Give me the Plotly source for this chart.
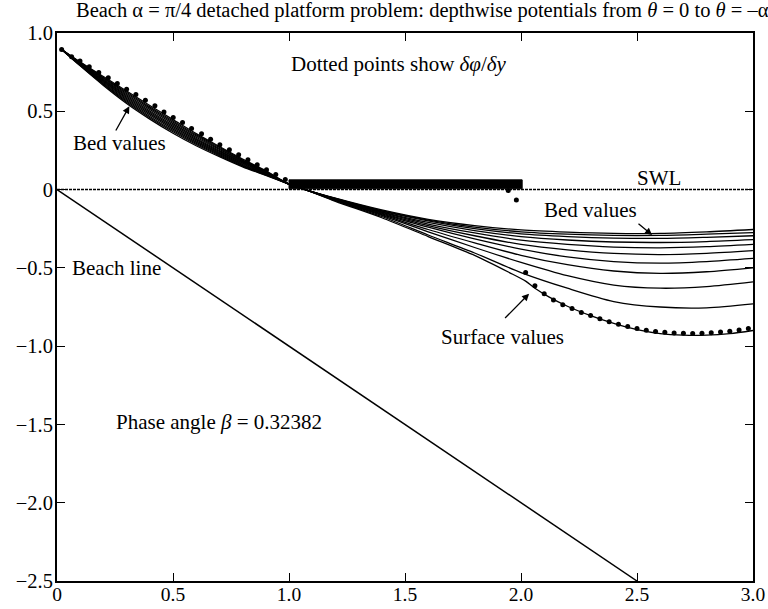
import plotly.graph_objects as go

# ---- data -------------------------------------------------------------
# Depthwise potential curves, one per ray angle theta (bed = -alpha ... surface = 0).
# Left of the platform (x < 1) the curves are bunched; to the right they fan out.
X_LEFT = [0.02, 0.1, 0.2, 0.3, 0.4, 0.5, 0.6, 0.7, 0.8, 0.9]
LEFT_CURVES = [
    [0.895, 0.790, 0.665, 0.550, 0.450, 0.360, 0.280, 0.210, 0.145, 0.090],  # bed
    [0.895, 0.793, 0.671, 0.558, 0.459, 0.369, 0.288, 0.217, 0.150, 0.093],
    [0.895, 0.795, 0.676, 0.566, 0.467, 0.377, 0.295, 0.223, 0.155, 0.096],
    [0.895, 0.798, 0.682, 0.574, 0.476, 0.386, 0.303, 0.230, 0.160, 0.099],
    [0.895, 0.800, 0.688, 0.582, 0.485, 0.395, 0.311, 0.236, 0.165, 0.102],
    [0.895, 0.803, 0.694, 0.590, 0.494, 0.404, 0.319, 0.243, 0.170, 0.105],
    [0.895, 0.805, 0.699, 0.598, 0.502, 0.412, 0.326, 0.249, 0.175, 0.108],
    [0.895, 0.808, 0.705, 0.606, 0.511, 0.421, 0.334, 0.256, 0.180, 0.111],
    [0.895, 0.810, 0.711, 0.614, 0.520, 0.430, 0.342, 0.262, 0.185, 0.114],
    [0.895, 0.813, 0.716, 0.622, 0.528, 0.438, 0.349, 0.269, 0.190, 0.117],
    [0.895, 0.815, 0.722, 0.630, 0.537, 0.447, 0.357, 0.275, 0.195, 0.120],  # surface
]

X_RIGHT = [1.0, 1.07, 1.2, 1.4, 1.6, 1.8, 2.0, 2.2, 2.4, 2.6, 2.8, 3.0]
RIGHT_CURVES = [
    [0.035, 0.0, -0.055, -0.130, -0.190, -0.230, -0.258, -0.272, -0.280, -0.280, -0.270, -0.255],  # bed
    [0.035, 0.0, -0.057, -0.135, -0.195, -0.240, -0.270, -0.285, -0.293, -0.293, -0.285, -0.275],
    [0.035, 0.0, -0.058, -0.138, -0.200, -0.250, -0.283, -0.300, -0.310, -0.312, -0.305, -0.295],
    [0.035, 0.0, -0.060, -0.142, -0.210, -0.262, -0.300, -0.322, -0.335, -0.338, -0.332, -0.320],
    [0.035, 0.0, -0.061, -0.146, -0.220, -0.277, -0.323, -0.350, -0.367, -0.372, -0.365, -0.350],
    [0.035, 0.0, -0.063, -0.150, -0.230, -0.295, -0.350, -0.385, -0.408, -0.415, -0.407, -0.390],
    [0.035, 0.0, -0.065, -0.155, -0.240, -0.315, -0.380, -0.430, -0.460, -0.470, -0.460, -0.440],
    [0.035, 0.0, -0.067, -0.160, -0.255, -0.340, -0.420, -0.480, -0.520, -0.535, -0.525, -0.500],
    [0.035, 0.0, -0.069, -0.165, -0.270, -0.370, -0.465, -0.550, -0.610, -0.630, -0.620, -0.590],
    [0.035, 0.0, -0.071, -0.172, -0.290, -0.405, -0.530, -0.630, -0.715, -0.750, -0.755, -0.730],
]
# surface curve (theta = 0) on the right, with its kink just past the platform end
X_SURFACE = [1.0, 1.07, 1.2, 1.4, 1.6, 1.8, 1.95, 2.02, 2.06, 2.12, 2.2, 2.3, 2.4,
             2.5, 2.6, 2.7, 2.8, 2.9, 3.0]
Y_SURFACE = [0.035, 0.0, -0.075, -0.180, -0.300, -0.420, -0.530, -0.585, -0.630, -0.685,
             -0.745, -0.805, -0.855, -0.895, -0.920, -0.930, -0.930, -0.920, -0.900]

# d(phi)/dy sample points
DOT_X_LEFT = [0.020, 0.063, 0.099, 0.139, 0.180, 0.221, 0.260, 0.300, 0.340, 0.381, 0.422,
              0.461, 0.501, 0.541, 0.580, 0.623, 0.662, 0.702, 0.743, 0.783, 0.823, 0.863,
              0.903, 0.943, 0.984]
DOT_Y_LEFT = [0.895, 0.848, 0.821, 0.784, 0.748, 0.714, 0.678, 0.641, 0.607, 0.571, 0.535,
              0.496, 0.460, 0.428, 0.390, 0.357, 0.321, 0.287, 0.254, 0.222, 0.190, 0.158,
              0.126, 0.096, 0.064]
DOT_X_RIGHT = [1.945, 1.98, 2.02, 2.06, 2.10, 2.14, 2.18, 2.22, 2.26, 2.30, 2.34, 2.38, 2.42,
               2.46, 2.50, 2.54, 2.58, 2.62, 2.66, 2.70, 2.74, 2.78, 2.82, 2.86, 2.90,
               2.94, 2.98]
DOT_Y_RIGHT = [-0.006, -0.066, -0.530, -0.615, -0.665, -0.705, -0.735, -0.760, -0.785,
               -0.805, -0.825, -0.845, -0.860, -0.875, -0.888, -0.898, -0.906, -0.912,
               -0.916, -0.918, -0.920, -0.918, -0.915, -0.910, -0.905, -0.897, -0.888]

# platform (detached, just above still water level)
PLATFORM_X = [1.0, 2.005]
PLATFORM_Y = [0.005, 0.062]

# beach and still water level
BEACH_X = [0.0, 2.5]
BEACH_Y = [0.0, -2.5]
SWL_X = [0.0, 3.0]
SWL_Y = [0.0, 0.0]

X_TICKS = [0, 0.5, 1.0, 1.5, 2.0, 2.5, 3.0]
X_TICK_TEXT = ["0", "0.5", "1.0", "1.5", "2.0", "2.5", "3.0"]
Y_TICKS = [-2.5, -2.0, -1.5, -1.0, -0.5, 0, 0.5, 1.0]
Y_TICK_TEXT = ["\u22122.5", "\u22122.0", "\u22121.5", "\u22121.0", "\u22120.5", "0", "0.5", "1.0"]

# ---- figure -------------------------------------------------------------
FONT = "Liberation Serif, Times New Roman, serif"
fig = go.Figure()

# still water level (densely dotted)
fig.add_trace(go.Scatter(x=SWL_X, y=SWL_Y, mode="lines",
                         line=dict(color="black", width=1.5, dash="3px,1px"),
                         hoverinfo="skip"))

# beach line
fig.add_trace(go.Scatter(x=BEACH_X, y=BEACH_Y, mode="lines",
                         line=dict(color="black", width=1.5), hoverinfo="skip"))

# potential curves
for i, left in enumerate(LEFT_CURVES):
    if i < len(RIGHT_CURVES):
        xs = X_LEFT + X_RIGHT
        ys = left + RIGHT_CURVES[i]
    else:
        xs = X_LEFT + X_SURFACE
        ys = left + Y_SURFACE
    fig.add_trace(go.Scatter(x=xs, y=ys, mode="lines",
                             line=dict(color="black", width=1.3, shape="spline",
                                       smoothing=0.8),
                             hoverinfo="skip"))

# platform
fig.add_trace(go.Scatter(
    x=[PLATFORM_X[0], PLATFORM_X[1], PLATFORM_X[1], PLATFORM_X[0], PLATFORM_X[0]],
    y=[PLATFORM_Y[0], PLATFORM_Y[0], PLATFORM_Y[1], PLATFORM_Y[1], PLATFORM_Y[0]],
    mode="lines", fill="toself", fillcolor="black",
    line=dict(color="black", width=1), hoverinfo="skip"))

# derivative dots
fig.add_trace(go.Scatter(x=DOT_X_LEFT + DOT_X_RIGHT, y=DOT_Y_LEFT + DOT_Y_RIGHT,
                         mode="markers", marker=dict(color="black", size=5),
                         hoverinfo="skip"))

txt = dict(family=FONT, size=21, color="black")
arrow = dict(showarrow=True, arrowhead=2, arrowsize=1.1, arrowwidth=1.3,
             arrowcolor="black", axref="x", ayref="y", text="")
annotations = [
    dict(x=0.525, y=1.0, xref="paper", yref="paper", yanchor="bottom", yshift=9,
         text="Beach \u03b1 = \u03c0/4 detached platform problem: depthwise potentials "
              "from <i>\u03b8</i> = 0 to <i>\u03b8</i> = \u2013\u03b1",
         showarrow=False, font=dict(family=FONT, size=20.5, color="black")),
    dict(x=1.0, y=0.805, xanchor="left",
         text="Dotted points show <i>\u03b4\u03c6</i>/<i>\u03b4y</i>",
         showarrow=False, font=txt),
    dict(x=0.27, y=0.295, text="Bed values", showarrow=False, font=txt),
    dict(x=0.312, y=0.532, ax=0.25, ay=0.368, **arrow),
    dict(x=2.595, y=0.077, text="SWL", showarrow=False, font=txt),
    dict(x=2.30, y=-0.13, text="Bed values", showarrow=False, font=txt),
    dict(x=2.565, y=-0.29, ax=2.50, ay=-0.21, **arrow),
    dict(x=1.92, y=-0.94, text="Surface values", showarrow=False, font=txt),
    dict(x=2.035, y=-0.665, ax=1.925, ay=-0.83, **arrow),
    dict(x=0.055, y=-0.5, text="Beach line", showarrow=False, font=txt, xanchor="left"),
    dict(x=0.70, y=-1.485, text="Phase angle <i>\u03b2</i> = 0.32382",
         showarrow=False, font=txt),
]

axis_common = dict(showgrid=False, zeroline=False, showline=True, linecolor="black",
                   linewidth=2, mirror="allticks", ticks="inside", ticklen=8,
                   tickwidth=1.3, tickcolor="black", automargin=False)

fig.update_layout(
    width=768, height=609,
    margin=dict(l=57, r=15, t=33, b=28),
    paper_bgcolor="white", plot_bgcolor="white",
    showlegend=False,
    xaxis=dict(range=[0, 3.0], tickvals=X_TICKS, ticktext=X_TICK_TEXT,
               ticklabelstandoff=-5,
               tickfont=dict(family=FONT, size=19.5, color="black"), **axis_common),
    yaxis=dict(range=[-2.5, 1.0], tickvals=Y_TICKS, ticktext=Y_TICK_TEXT,
               ticklabelstandoff=-2,
               tickfont=dict(family=FONT, size=20.5, color="black"), **axis_common),
    annotations=annotations,
)

fig.write_html("out.html")
